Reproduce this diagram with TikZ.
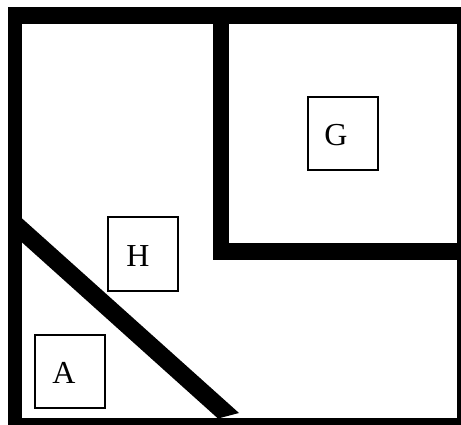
\documentclass[tikz,border=0pt]{standalone}
\usepackage{fontspec}
\setmainfont{Liberation Serif}
\begin{document}
\begin{tikzpicture}[x=1pt,y=-1pt,
  wall/.style={fill=black,draw=none},
  room/.style={draw=black,line width=2pt,minimum width=70pt,minimum height=73pt,inner sep=0pt},
  letter/.style={inner sep=0pt,font=\fontsize{32}{32}\selectfont}]
\useasboundingbox[fill=white] (0,0) rectangle (461,425);
% outer walls
\fill[wall] (7.5,7.5) rectangle (21.5,425);
\fill[wall] (7.5,7.5) rectangle (461,24.5);
\fill[wall] (457,24) rectangle (461,425);
\fill[wall] (7.5,418) rectangle (461,425);
% inner walls
\fill[wall] (213,24) rectangle (229,259.5);
\fill[wall] (213,243) rectangle (461,259.5);
% diagonal wall
\fill[wall] (21,217.5) -- (239,413) -- (218,418.5) -- (21,241.5) -- cycle;
% rooms
\node[room] (G) at (342.5,133.5) {};
\node[room] (H) at (143,254) {};
\node[room] (A) at (69.5,371) {};
\node[letter] (Gt) at (336,135) {G};
\node[letter] (Ht) at (138,256) {H};
\node[letter] (At) at (64,373) {A};
\end{tikzpicture}
\end{document}
